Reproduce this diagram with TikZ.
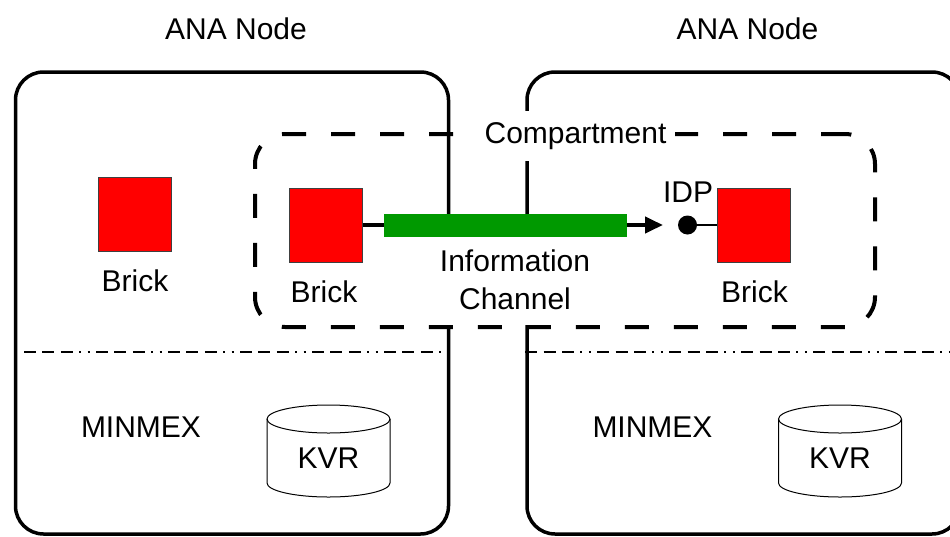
\documentclass[tikz,border=0pt]{standalone}
\usepackage{fontspec}
\setmainfont{Liberation Sans}
\usetikzlibrary{arrows.meta}
\definecolor{chgreen}{RGB}{0,153,0}
\definecolor{brickred}{RGB}{255,0,0}
\begin{document}
\begin{tikzpicture}[x=1pt,y=-1pt,
  every node/.style={font=\fontsize{30pt}{38pt}\selectfont},
  anabox/.style={draw, line width=3.5pt, rounded corners=28pt, minimum width=433pt, minimum height=462pt, inner sep=0pt},
  divider/.style={line width=1.3pt, dash pattern=on 12pt off 6.4pt on 12pt off 6.4pt on 12pt off 6.4pt on 2pt off 6.4pt on 2pt off 6.4pt},
  compbox/.style={draw, line width=4pt, dash pattern=on 24pt off 25pt, rounded corners=30pt, minimum width=620pt, minimum height=193pt, inner sep=0pt},
  brick/.style={draw=black!75, line width=1pt, fill=brickred, minimum width=73pt, minimum height=74pt, inner sep=0pt},
  channel/.style={fill=chgreen, minimum width=243pt, minimum height=23pt, inner sep=0pt},
  txt/.style={anchor=base, inner sep=0pt},
  cyl/.style={line width=1pt}
]
\path[use as bounding box] (0,0) rectangle (950,536);
\clip (0,0) rectangle (950,536);

% ANA nodes
\node[anabox] (ana1) at (232,303) {};
\node[anabox] (ana2) at (743.5,303) {};
\node[txt] (anaL) at (236,39) {ANA Node};
\node[txt] (anaR) at (747.5,39) {ANA Node};

% dividers
\coordinate (dl) at (24,352);
\coordinate (dr) at (950,352);
\draw[divider] (dl) -- (dl -| ana1.east);
\draw[divider] (dr -| ana2.west) -- (dr);

% information channel label (white background)
\node[fill=white, align=center, minimum width=170pt, minimum height=90pt, inner sep=0pt] (info) at (515,280) {Information\\Channel};

% compartment
\node[compbox] (comp) at (565,230.5) {};
\node[txt, fill=white, minimum height=50pt, inner xsep=9pt] (complabel) at (575.5,143) {Compartment};

% bricks
\node[brick] (b1) at (135,214.5) {};
\node[brick] (b2) at (325.5,225) {};
\node[brick] (b3) at (754,225) {};
\node[txt] (b1l) at (135,291) {Brick};
\node[txt] (b2l) at (324,302) {Brick};
\node[txt] (b3l) at (754.5,302) {Brick};

% channel
\node[channel] (chan) at (505.5,225) {};
\draw[line width=4pt] (b2.east) -- (chan.west);
\node[circle, fill=black, minimum size=19pt, inner sep=0pt] (idp) at (687.5,225) {};
\node[txt] (idplabel) at (688,202) {IDP};
\coordinate (tip) at (663,225);
\draw[line width=4pt, -{Triangle[length=18pt,width=16pt]}] (chan.east) -- (tip);
\draw[line width=1.5pt] (idp) -- (b3);

% MINMEX and KVR
\node[txt] (minL) at (141,437) {MINMEX};
\node[txt] (minR) at (652.5,437) {MINMEX};
\foreach \cx/\nm in {328.5/kvrL, 840/kvrR} {
  \draw[cyl] (\cx-61.5,419) -- (\cx-61.5,483) arc[start angle=180, end angle=360, x radius=61.5pt, y radius=14pt] -- (\cx+61.5,419);
  \draw[cyl] (\cx,419) ellipse [x radius=61.5pt, y radius=14pt];
  \node[txt] (\nm) at (\cx,468) {KVR};
}
\end{tikzpicture}
\end{document}
